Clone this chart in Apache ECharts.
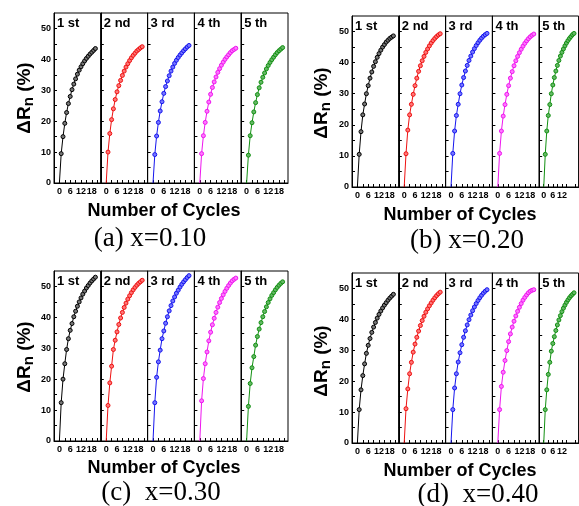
<!DOCTYPE html>
<html>
<head>
<meta charset="utf-8">
<script src="https://cdn.jsdelivr.net/npm/echarts@6/dist/echarts.min.js"></script>
<style>
  html, body { margin: 0; padding: 0; background: #fff; }
  #main { width: 579px; height: 506px; }
</style>
</head>
<body>
<div id="main"></div>
<script>
// x values: cycle number
var cycles = [0, 1, 2, 3, 4, 5, 6, 7, 8, 9, 10, 11, 12, 13, 14, 15, 16, 17, 18, 19, 20];
var runLabels = ['1 st', '2 nd', '3 rd', '4 th', '5 th'];
var captions = ['(a) x=0.10', '(b) x=0.20', '(c)  x=0.30', '(d)  x=0.40'];
var xTickLabels = [0, 6, 12, 18];
var yTickLabels = [0, 10, 20, 30, 40, 50];

// ΔRn (%) per run, x=0.10
var valuesA = [
  [0, 9.5, 15, 19.3, 22.8, 25.7, 28, 30.2, 32, 33.7, 35.2, 36.5, 37.6, 38.6, 39.5, 40.3, 41, 41.7, 42.3, 42.9, 43.5],
  [0, 10, 16, 20.5, 24, 27, 29.5, 31.5, 33.2, 34.8, 36.2, 37.5, 38.6, 39.6, 40.5, 41.3, 42, 42.7, 43.2, 43.7, 44.1],
  [0, 9.2, 15.2, 19.6, 23.3, 26.3, 29, 31.2, 33, 34.7, 36.2, 37.5, 38.7, 39.7, 40.6, 41.4, 42.1, 42.8, 43.4, 44, 44.5],
  [0, 9.5, 15.3, 19.6, 23.2, 26.2, 28.7, 30.9, 32.7, 34.3, 35.8, 37, 38.1, 39.1, 40, 40.8, 41.5, 42.2, 42.8, 43.2, 43.6],
  [0, 9, 15.3, 19.5, 23, 26, 28.6, 30.8, 32.6, 34.2, 35.6, 36.9, 38, 39, 39.9, 40.7, 41.5, 42.2, 42.8, 43.3, 43.8]
];
// x=0.20
var valuesB = [
  [0, 10.5, 17.8, 23.2, 26.7, 30, 32.6, 35, 37, 38.8, 40.3, 41.7, 42.9, 44, 45, 45.8, 46.6, 47.2, 47.8, 48.2, 48.6],
  [0, 10.7, 18.3, 23.2, 26.6, 29.8, 32.6, 35, 37.2, 39, 40.6, 42, 43.3, 44.4, 45.4, 46.3, 47.1, 47.8, 48.4, 48.9, 49.3],
  [0, 10.8, 18, 23, 26.6, 30, 32.8, 35.2, 37.3, 39.1, 40.7, 42.1, 43.4, 44.5, 45.5, 46.4, 47.2, 47.9, 48.5, 49, 49.4],
  [0, 10.8, 18, 22.8, 26.5, 29.8, 32.6, 35, 37.1, 39, 40.6, 42, 43.2, 44.3, 45.3, 46.2, 47, 47.7, 48.3, 48.8, 49.2],
  [0, 10.5, 18, 23, 26.5, 30, 32.8, 35.2, 37.3, 39.1, 40.7, 42.1, 43.3, 44.4, 45.4, 46.3, 47.1, 47.8, 48.4, 49, 49.4]
];
// x=0.30
var valuesC = [
  [0, 12.4, 20, 25, 29.6, 33.1, 35.8, 38, 40.2, 42, 43.6, 45, 46.3, 47.5, 48.5, 49.5, 50.3, 51.1, 51.8, 52.4, 53],
  [0, 11.5, 18.8, 24.2, 29.6, 32.6, 35.3, 37.7, 39.8, 41.6, 43.2, 44.6, 45.9, 47, 48, 48.9, 49.7, 50.4, 51, 51.5, 52],
  [0, 12.4, 20.6, 25.6, 29.4, 33.1, 35.6, 38.1, 40.2, 42.1, 43.8, 45.3, 46.6, 47.8, 48.8, 49.8, 50.7, 51.5, 52.2, 52.9, 53.5],
  [0, 13, 20.2, 25, 28.8, 32.4, 35.2, 37.6, 39.7, 41.6, 43.3, 44.8, 46.1, 47.3, 48.4, 49.4, 50.3, 51.1, 51.8, 52.3, 52.7],
  [0, 11.2, 18.6, 23.7, 27.3, 31, 33.8, 36.2, 38.3, 40.2, 41.9, 43.4, 44.8, 46, 47.1, 48, 48.9, 49.7, 50.4, 51, 51.5]
];
// x=0.40
var valuesD = [
  [0, 10.8, 17.2, 21.8, 25.6, 29, 31.6, 33.8, 35.8, 37.5, 39, 40.4, 41.6, 42.7, 43.7, 44.6, 45.4, 46.2, 46.9, 47.5, 48.1],
  [0, 11.1, 17.5, 22.4, 26.1, 29.4, 32, 34.2, 36.2, 38, 39.6, 41, 42.3, 43.4, 44.4, 45.3, 46.2, 47, 47.7, 48.3, 48.8],
  [0, 10.8, 17.8, 22.4, 26.2, 29.2, 31.8, 34.2, 36.3, 38.2, 39.9, 41.4, 42.8, 44, 45.1, 46.1, 47, 47.8, 48.5, 49.1, 49.6],
  [0, 10.8, 18.3, 22.9, 26.7, 29.9, 32.8, 35.3, 37.5, 39.4, 41.1, 42.6, 43.9, 45.1, 46.2, 47.1, 47.9, 48.6, 49.1, 49.4, 49.6],
  [0, 10.8, 17.2, 22.2, 26.1, 29.7, 32.2, 34.4, 36.4, 38.2, 39.8, 41.2, 42.5, 43.6, 44.6, 45.5, 46.3, 47, 47.6, 48.1, 48.6]
];
var panelValues = [valuesA, valuesB, valuesC, valuesD];

var lineColors = ['#000000', '#ee1111', '#1515ee', '#ee15ee', '#129012'];
var fillColors = ['#777777', '#ff7777', '#7777ff', '#ff77ff', '#66b866'];

// where each block of 5 frames sits
var panels = [
  { left: 54, top: 13, height: 170, xt: [164, 211], cap: [150, 239], yt: [25, 98] },
  { left: 352, top: 16, height: 171, xt: [460, 215], cap: [467, 241], yt: [322, 103] },
  { left: 54, top: 271, height: 170, xt: [164, 468], cap: [161, 493], yt: [25, 357] },
  { left: 352, top: 273, height: 170, xt: [460, 471], cap: [478, 495], yt: [322, 361] }
];
var subWidth = 46.8;
var font = 'Liberation Sans';

var grids = [], xAxes = [], yAxes = [], series = [], graphics = [];

panels.forEach(function (p, pi) {
  for (var r = 0; r < 5; r++) {
    var idx = grids.length;
    var left = p.left + r * subWidth;
    grids.push({
      left: left, top: p.top, width: subWidth, height: p.height,
      show: true, borderColor: '#000', borderWidth: 1, backgroundColor: 'transparent'
    });
    xAxes.push({
      type: 'value', gridIndex: idx, min: -3, max: 23,
      axisLine: { show: true, onZero: false, lineStyle: { color: '#000', width: 1 } },
      axisTick: { show: true, inside: true, length: 3, customValues: [0, 3, 6, 9, 12, 15, 18, 21], lineStyle: { color: '#000' } },
      axisLabel: {
        show: true, customValues: xTickLabels, margin: 4, hideOverlap: false,
        color: '#000', fontFamily: font, fontWeight: 'bold', fontSize: 9
      },
      splitLine: { show: false }
    });
    yAxes.push({
      type: 'value', gridIndex: idx, min: 0, max: 55,
      axisLine: { show: true, onZero: false, lineStyle: { color: '#000', width: 1 } },
      axisTick: { show: true, inside: true, length: 3, customValues: [0, 5, 10, 15, 20, 25, 30, 35, 40, 45, 50], lineStyle: { color: '#000' } },
      axisLabel: {
        show: r === 0, customValues: yTickLabels, margin: 3,
        color: '#000', fontFamily: font, fontWeight: 'bold', fontSize: 9
      },
      splitLine: { show: false }
    });
    var vals = panelValues[pi][r];
    series.push({
      type: 'line', xAxisIndex: idx, yAxisIndex: idx,
      data: cycles.map(function (c, k) {
        return k === 0 ? { value: [c, vals[k]], symbol: 'none' } : [c, vals[k]];
      }),
      symbol: 'circle', symbolSize: 4,
      lineStyle: { color: lineColors[r], width: 1 },
      itemStyle: { color: fillColors[r], borderColor: lineColors[r], borderWidth: 1 },
      emphasis: { disabled: true },
      animation: false
    });
    graphics.push({
      type: 'text', x: left + 3, y: p.top + 10,
      style: {
        text: runLabels[r], fill: '#000', font: 'bold 13px ' + font,
        align: 'left', verticalAlign: 'middle', textAlign: 'left', textVerticalAlign: 'middle'
      }
    });
  }
  graphics.push({
    type: 'text', x: p.xt[0], y: p.xt[1],
    style: {
      text: 'Number of Cycles', fill: '#000', font: 'bold 18px ' + font,
      align: 'center', verticalAlign: 'middle', textAlign: 'center', textVerticalAlign: 'middle'
    }
  });
  graphics.push({
    type: 'text', x: p.cap[0], y: p.cap[1],
    style: {
      text: captions[pi], fill: '#000', font: '27px Liberation Serif',
      align: 'center', verticalAlign: 'middle', textAlign: 'center', textVerticalAlign: 'middle'
    }
  });
  graphics.push({
    type: 'text', x: p.yt[0], y: p.yt[1], rotation: Math.PI / 2,
    style: {
      text: '{m|ΔR}{s|n}{m| (%)}', fill: '#000',
      align: 'center', verticalAlign: 'middle', textAlign: 'center', textVerticalAlign: 'middle',
      rich: {
        m: { font: 'bold 19px ' + font, lineHeight: 22, fill: '#000' },
        s: { font: 'bold 15px ' + font, lineHeight: 10, verticalAlign: 'bottom', fill: '#000' }
      }
    }
  });
});

var myChart = echarts.init(document.getElementById('main'), null, { renderer: 'canvas' });
var option = {
  backgroundColor: '#fff',
  animation: false,
  grid: grids,
  xAxis: xAxes,
  yAxis: yAxes,
  series: series,
  graphic: graphics
};
option && myChart.setOption(option);
</script>
</body>
</html>
